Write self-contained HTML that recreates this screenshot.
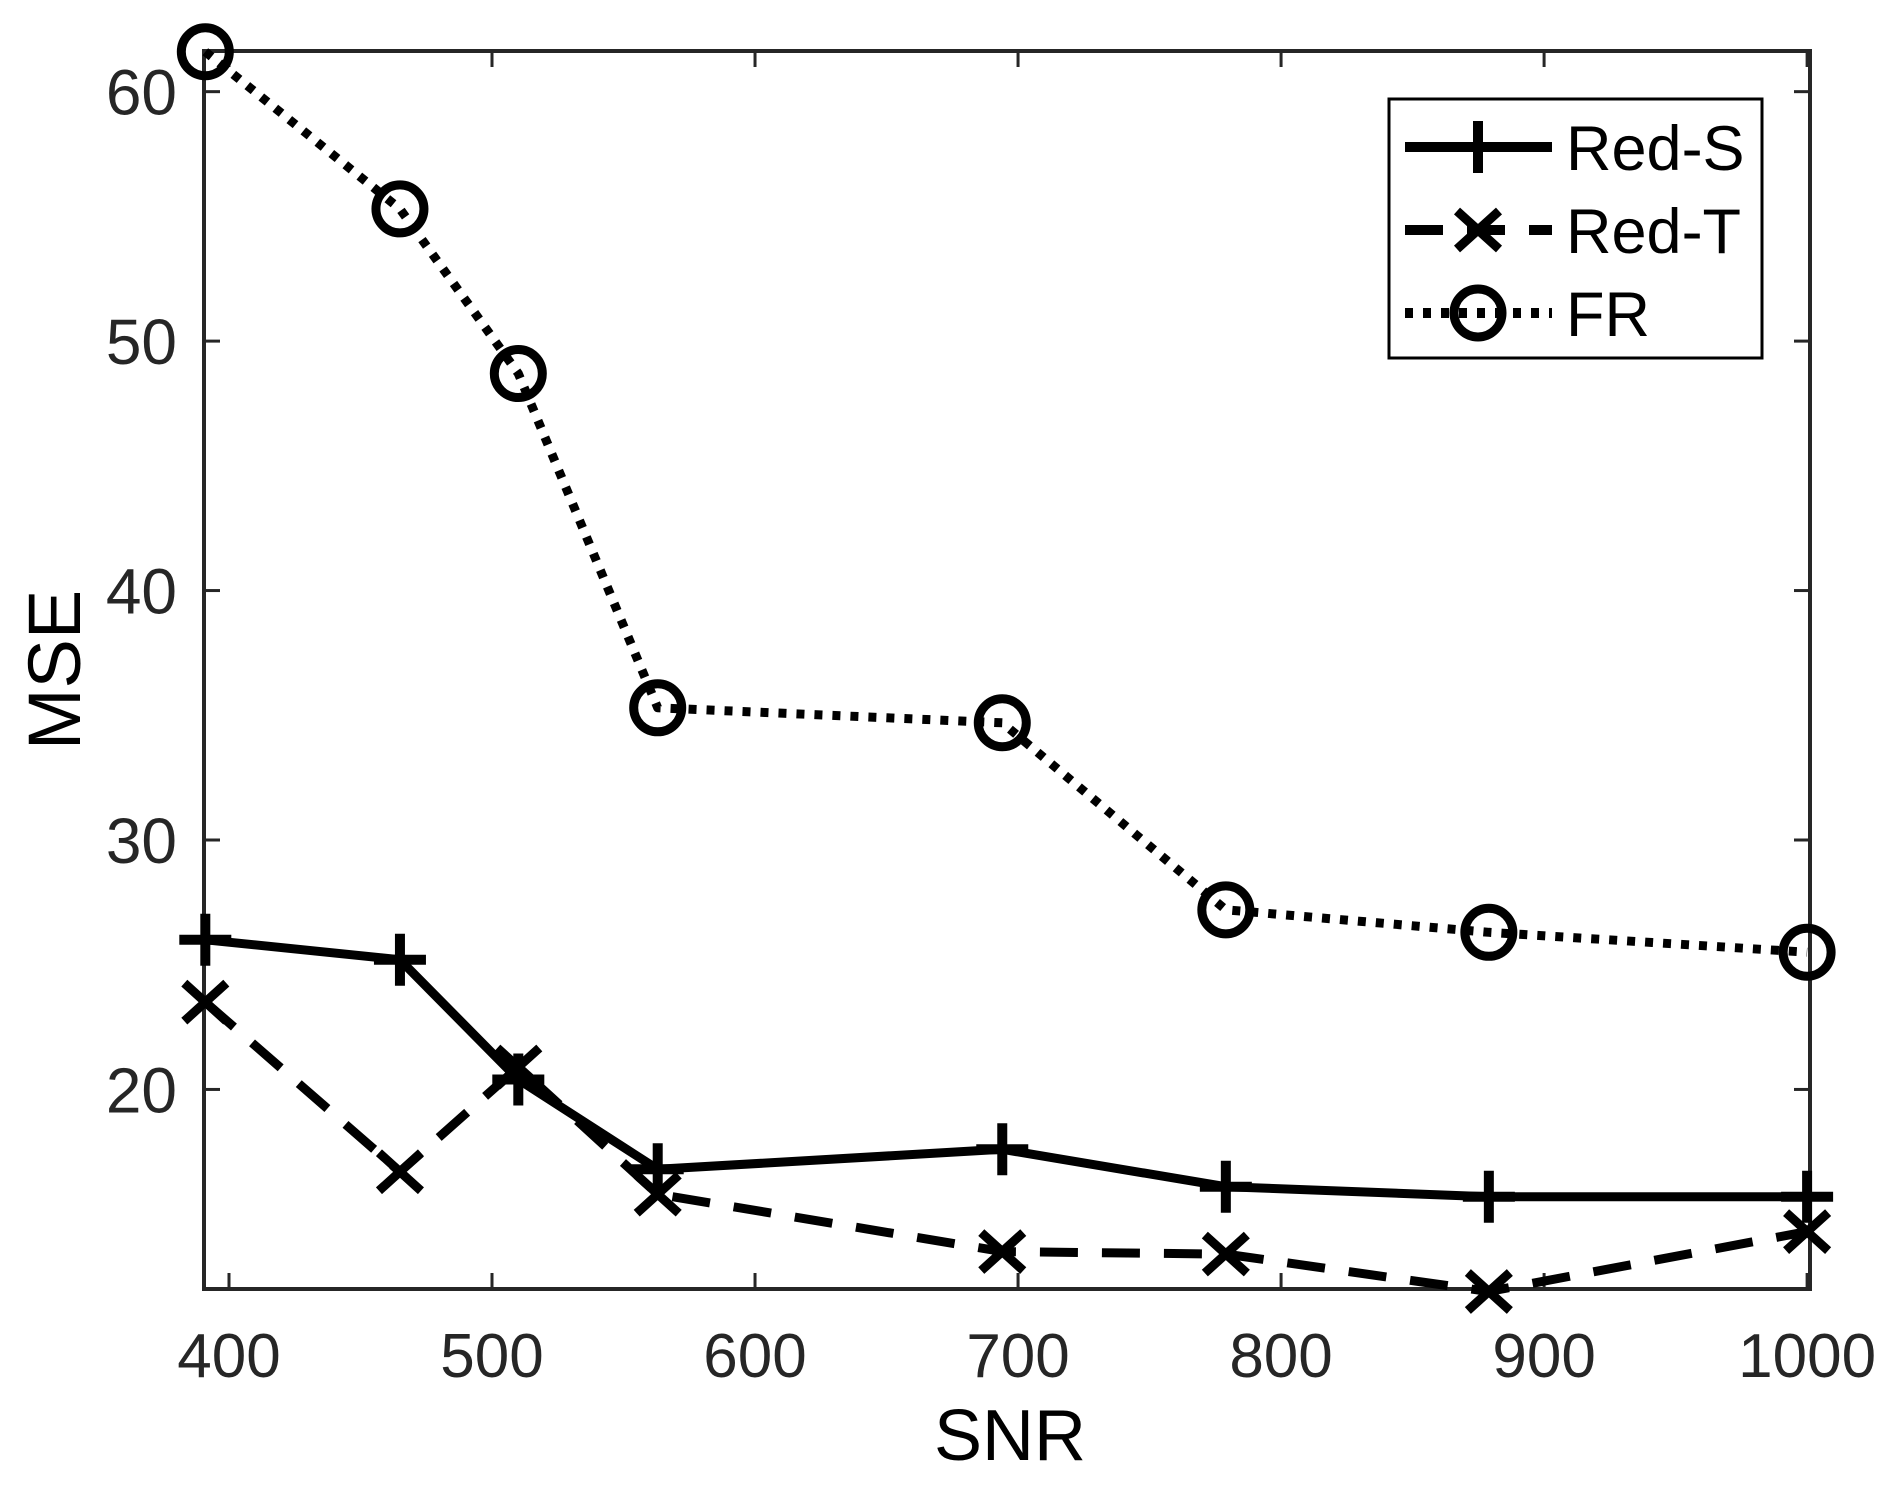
<!DOCTYPE html>
<html><head><meta charset="utf-8"><style>
html,body{margin:0;padding:0;background:#fff;}
svg{display:block;font-family:"Liberation Sans",Arial,sans-serif;}
</style></head><body>
<svg id="chart" width="1899" height="1495" viewBox="0 0 1899 1495" xmlns="http://www.w3.org/2000/svg">
<rect width="1899" height="1495" fill="#fff"/>
<g id="axes"></g>
<g id="series"></g>
<g id="legend"></g>
</svg>
<script>
const snrValues = [391, 465, 510, 563, 694, 779, 879, 1000];
const redS = [26.0, 25.2, 20.4, 16.8, 17.6, 16.1, 15.7, 15.7];
const redT = [23.5, 16.7, 20.9, 15.8, 13.5, 13.4, 11.9, 14.3];
const frVals = [61.6, 55.3, 48.7, 35.3, 34.7, 27.2, 26.3, 25.5];
const xTicks = [400, 500, 600, 700, 800, 900, 1000];
const yTicks = [20, 30, 40, 50, 60];
const legendLabels = ["Red-S", "Red-T", "FR"];

const NS = "http://www.w3.org/2000/svg";
const L = 204, R = 1810, T = 51, B = 1289;
const xMin = 390.5, xMax = 1001.1, yMin = 12, yMax = 61.63;
function xs(v){ return L + (v - xMin) / (xMax - xMin) * (R - L); }
function ys(v){ return B - (v - yMin) / (yMax - yMin) * (B - T); }
function mk(tag, attrs, parent){
  const e = document.createElementNS(NS, tag);
  for (const k in attrs) e.setAttribute(k, attrs[k]);
  parent.appendChild(e);
  return e;
}
const axes = document.getElementById('axes');
const series = document.getElementById('series');
const legend = document.getElementById('legend');
const AC = "#262626";

const box = mk('rect', {x:L, y:T, width:R-L, height:B-T, fill:'none', stroke:AC, 'stroke-width':4}, axes);



xTicks.forEach(v => {
  const x = xs(v);
  const t1 = mk('line', {x1:x, y1:B, x2:x, y2:B-16, stroke:AC, 'stroke-width':3}, axes);
  
  
  const t2 = mk('line', {x1:x, y1:T, x2:x, y2:T+16, stroke:AC, 'stroke-width':3}, axes);
  
  
  const lb = mk('text', {x:x, y:1377, 'text-anchor':'middle', 'font-size':62, fill:AC}, axes);
  lb.textContent = v;
  
  
});
yTicks.forEach(v => {
  const y = ys(v);
  const t1 = mk('line', {x1:L, y1:y, x2:L+16, y2:y, stroke:AC, 'stroke-width':3}, axes);
  
  
  const t2 = mk('line', {x1:R, y1:y, x2:R-16, y2:y, stroke:AC, 'stroke-width':3}, axes);
  
  
  const lb = mk('text', {x:177, y:y+23, 'text-anchor':'end', 'font-size':64, fill:AC}, axes);
  lb.textContent = v;
  
  
});
const xt = mk('text', {x:1010, y:1460, 'text-anchor':'middle', 'font-size':72, fill:'#000'}, axes);
xt.textContent = 'SNR';


const yt = mk('text', {x:0, y:0, 'text-anchor':'middle', 'font-size':74, fill:'#000', transform:'translate(80,670) rotate(-90)'}, axes);
yt.textContent = 'MSE';



function drawMarker(type, x, y, g){
  let m;
  if (type === 'plus') {
    m = mk('path', {d:`M${x-26},${y}H${x+26}M${x},${y-26}V${y+26}`, stroke:'#000', 'stroke-width':10, fill:'none'}, g);
  } else if (type === 'x') {
    m = mk('path', {d:`M${x-21},${y-19}L${x+21},${y+19}M${x-21},${y+19}L${x+21},${y-19}`, stroke:'#000', 'stroke-width':9, fill:'none'}, g);
  } else {
    m = mk('circle', {cx:x, cy:y, r:24, stroke:'#000', 'stroke-width':9, fill:'none'}, g);
  }
  return m;
}
const defs = [
  {name:'red-s', vals:redS, dash:null, marker:'plus'},
  {name:'red-t', vals:redT, dash:'38 24', marker:'x'},
  {name:'fr', vals:frVals, dash:'8 10', marker:'circle'}
];
defs.forEach(s => {
  const g = mk('g', {}, series);
  
  
  const pts = snrValues.map((v,i) => xs(v).toFixed(1) + ',' + ys(s.vals[i]).toFixed(1)).join(' ');
  const attrs = {points:pts, fill:'none', stroke:'#000', 'stroke-width':9, 'stroke-linejoin':'round'};
  if (s.dash) attrs['stroke-dasharray'] = s.dash;
  const pl = mk('polyline', attrs, g);
  
  
  snrValues.forEach((v,i) => {
    const m = drawMarker(s.marker, xs(v), ys(s.vals[i]), g);
    
    
  });
});

const lb = mk('rect', {x:1389, y:99, width:373, height:259, fill:'#fff', stroke:'#000', 'stroke-width':3}, legend);


const rowY = [147, 230, 313];
defs.forEach((s,i) => {
  const g = mk('g', {}, legend);
  
  
  const attrs = {x1:1405, y1:rowY[i], x2:1552, y2:rowY[i], stroke:'#000', 'stroke-width':10};
  if (s.dash) attrs['stroke-dasharray'] = s.dash;
  const ln = mk('line', attrs, g);
  
  
  const m = drawMarker(s.marker, 1478, rowY[i], g);
  
  
  const t = mk('text', {x:1566, y:rowY[i]+23, 'font-size':63, fill:'#000'}, g);
  t.textContent = legendLabels[i];
  
  
});
</script>
</body></html>
